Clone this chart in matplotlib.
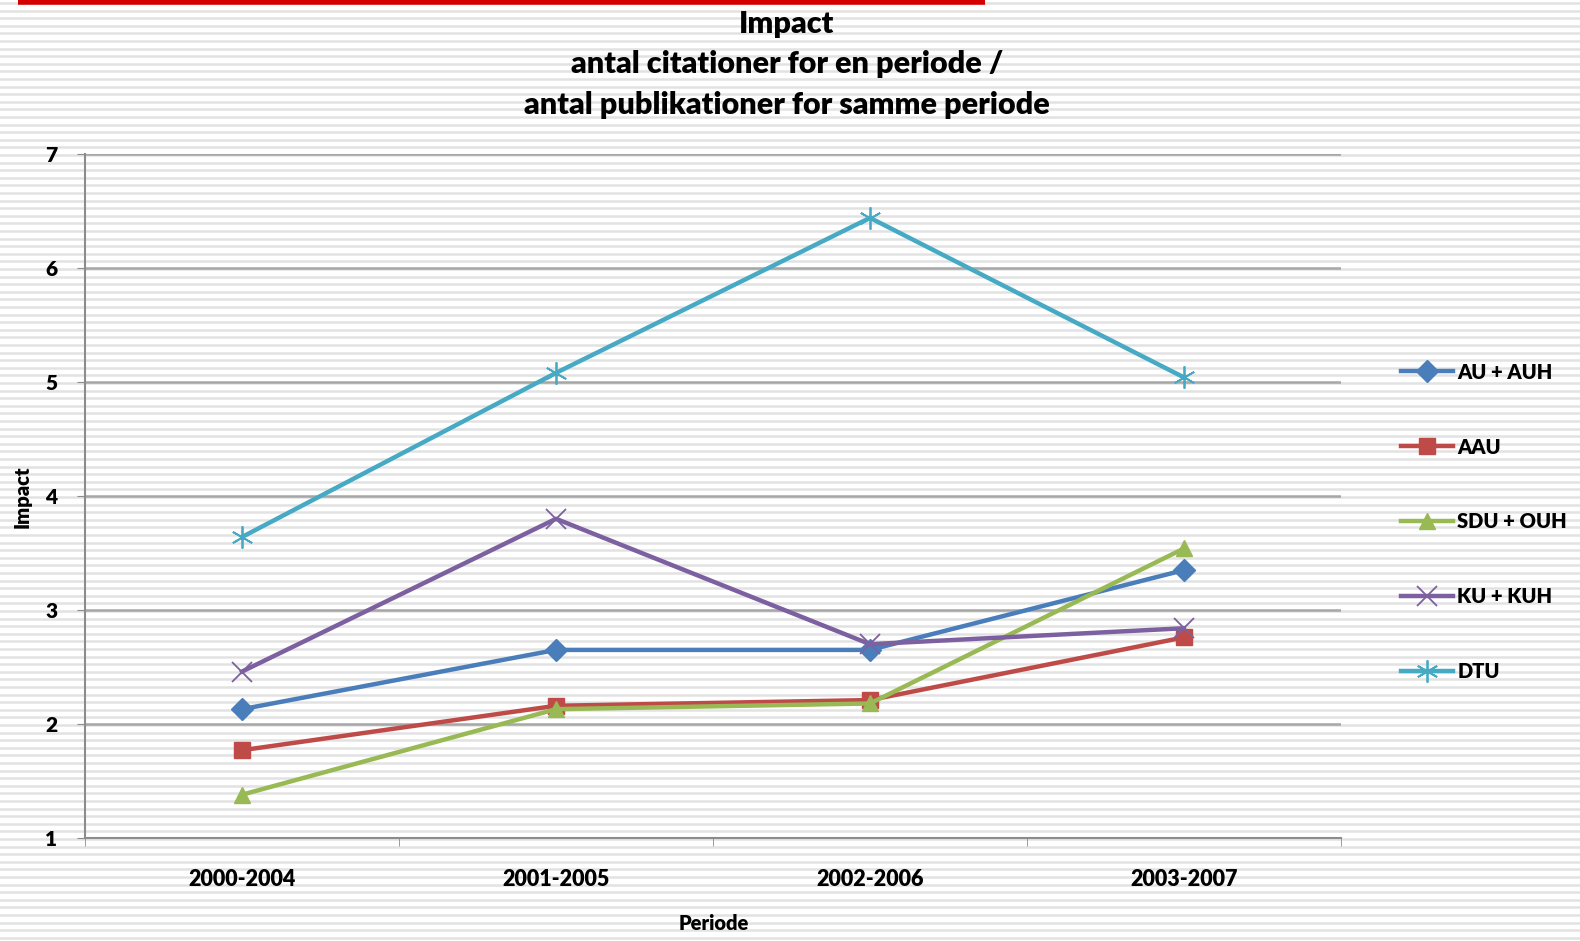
import numpy as np
import matplotlib
matplotlib.use("Agg")
import matplotlib.pyplot as plt
from matplotlib.lines import Line2D

# Data
perioder = ["2000-2004", "2001-2005", "2002-2006", "2003-2007"]
au_auh = [2.13, 2.65, 2.65, 3.35]
aau = [1.77, 2.16, 2.21, 2.76]
sdu_ouh = [1.38, 2.13, 2.18, 3.54]
ku_kuh = [2.46, 3.80, 2.70, 2.84]
dtu = [3.64, 5.08, 6.44, 5.04]
y_ticks = [1, 2, 3, 4, 5, 6, 7]

serier = [
    ("AU + AUH", au_auh, "#4A7EBB", "D", 11),
    ("AAU", aau, "#BE4B48", "s", 12),
    ("SDU + OUH", sdu_ouh, "#98B954", "^", 12),
    ("KU + KUH", ku_kuh, "#7D60A0", "x", 15),
    ("DTU", dtu, "#46AAC5", (6, 2, 0), 16),
]

plt.rcParams['font.family'] = ['Lato', 'DejaVu Sans']
VEGT = "heavy"

W, H = 1580, 941
fig = plt.figure(figsize=(W / 100, H / 100), dpi=100)
fig.patch.set_facecolor("white")

# baggrund med vandrette striber
bg = fig.add_axes([0, 0, 1, 1], zorder=-5)
bg.set_xlim(0, W)
bg.set_ylim(H, 0)
bg.axis("off")
for yy in np.arange(3, H, 7.6):
    bg.axhline(yy, color="#e2e2e2", lw=1.8)
bg.plot([18, 985], [2, 2], color="#d40000", lw=4, solid_capstyle="butt")

# plotområde
x0, x1 = 85 / W, 1341 / W
y0, y1 = 1 - 838 / H, 1 - 154 / H
ax = fig.add_axes([x0, y0, x1 - x0, y1 - y0])
ax.patch.set_alpha(0)

def tynd(mk):
    return mk == "x" or isinstance(mk, tuple)

xs = np.arange(len(perioder))
for navn, vals, farve, mk, ms in serier:
    ax.plot(xs, vals, color=farve, lw=3.2, marker=mk, ms=ms,
            mew=1.3 if tynd(mk) else 1, mec=farve, label=navn)

ax.set_xlim(-0.5, len(perioder) - 0.5)
ax.set_ylim(1, 7)
ax.set_yticks(y_ticks)
ax.set_yticklabels([str(t) for t in y_ticks], fontsize=15, fontweight=VEGT)
ax.yaxis.grid(True, color="#a6a6a6", lw=1.8)
ax.set_axisbelow(True)

ax.set_xticks(xs)
ax.set_xticklabels(perioder, fontsize=15.5, fontweight=VEGT)
ax.tick_params(axis="x", which="major", length=0, pad=22)
ax.set_xticks(np.arange(-0.5, len(perioder)), minor=True)
ax.tick_params(axis="x", which="minor", length=6, color="#8c8c8c")
ax.tick_params(axis="y", length=6, color="#8c8c8c", pad=14)

for s in ["top", "right"]:
    ax.spines[s].set_visible(False)
for s in ["left", "bottom"]:
    ax.spines[s].set_color("#8c8c8c")
    ax.spines[s].set_linewidth(1.5)

fig.text(714 / W, 1 - 923 / H, "Periode", ha="center", va="center",
         fontsize=14.5, fontweight=VEGT)
fig.text(22 / W, 1 - 497 / H, "Impact", ha="center", va="center",
         fontsize=14.5, fontweight=VEGT, rotation=90)

fig.text(787 / W, 1 - 24 / H, "Impact", ha="center", va="center",
         fontsize=22, fontweight=VEGT)
fig.text(787 / W, 1 - 64 / H, "antal citationer for en periode /", ha="center",
         va="center", fontsize=22, fontweight=VEGT)
fig.text(787 / W, 1 - 105 / H, "antal publikationer for samme periode",
         ha="center", va="center", fontsize=22, fontweight=VEGT)

# forklaring
handles = []
for navn, vals, farve, mk, ms in serier:
    handles.append(Line2D([], [], color=farve, lw=3.2, marker=mk, ms=ms,
                          mew=1.3 if tynd(mk) else 1, mec=farve))
fig.legend(handles, [s[0] for s in serier], loc="center left",
           bbox_to_anchor=(1391 / W, 1 - 522 / H), frameon=False,
           prop={"size": 14.5, "weight": VEGT}, labelspacing=2.78,
           handlelength=2.6, handletextpad=0.2, borderpad=0)

fig.savefig("out.png", dpi=100)
